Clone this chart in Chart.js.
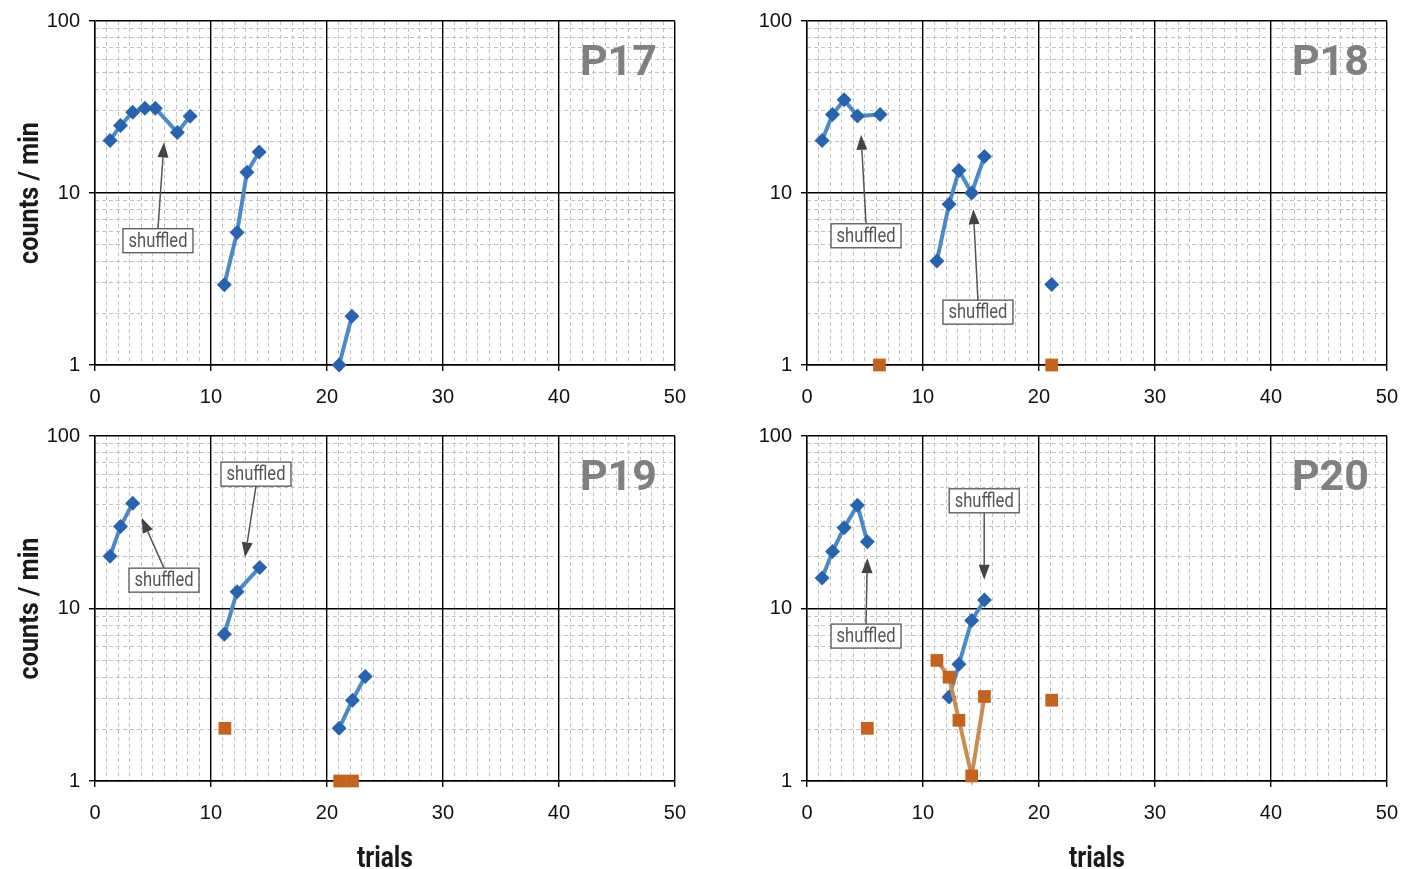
<!DOCTYPE html>
<html lang="en">
<head>
    <meta charset="UTF-8">
    <title>counts / min vs trials</title>
    <style>
        * { margin: 0; padding: 0; box-sizing: border-box; }
        body { background: #fff; overflow: hidden; }
        .wrap { position: relative; width: 1403px; height: 869px; overflow: hidden; }
        .wrap canvas { position: absolute; }
    </style>
    <script src="https://cdn.jsdelivr.net/npm/chart.js"></script>
</head>
<body>
    <div class="wrap">
        <canvas id="p17" width="700" height="415" style="left:0;top:0"></canvas>
        <canvas id="p18" width="700" height="415" style="left:712px;top:0"></canvas>
        <canvas id="p19" width="700" height="454" style="left:0;top:415px"></canvas>
        <canvas id="p20" width="700" height="454" style="left:712px;top:415px"></canvas>
    </div>

    <script>
        // axis ticks
        const xTicks = [0, 10, 20, 30, 40, 50];
        const yTicks = [1, 10, 100];
        const xMinor = [];
        for (let i = 1; i < 50; i++) if (i % 10) xMinor.push(i);
        const yMinor = [2, 3, 4, 5, 6, 7, 8, 9, 20, 30, 40, 50, 60, 70, 80, 90];

        // P17 (null = break in the line)
        const p17BlueX = [1.3, 2.2, 3.25, 4.3, 5.2, 7.1, 8.2, null, 11.15, 12.25, 13.1, 14.15, null, 21.05, 22.15];
        const p17BlueY = [20.2, 24.7, 29.5, 31.1, 31.1, 22.5, 27.9, null, 2.93, 5.89, 13.2, 17.3, null, 1.0, 1.92];
        const p17OrangeX = [];
        const p17OrangeY = [];

        // P18
        const p18BlueX = [1.3, 2.2, 3.2, 4.35, 6.3, null, 11.2, 12.25, 13.1, 14.2, 15.3, null, 21.1];
        const p18BlueY = [20.2, 28.6, 34.8, 28.0, 28.6, null, 4.03, 8.6, 13.5, 10.0, 16.3, null, 2.94];
        const p18OrangeX = [6.25, null, 21.1];
        const p18OrangeY = [1, null, 1];

        // P19
        const p19BlueX = [1.3, 2.2, 3.25, null, 11.15, 12.25, 14.2, null, 21.05, 22.2, 23.3];
        const p19BlueY = [20.1, 29.9, 40.8, null, 7.08, 12.5, 17.3, null, 2.02, 2.94, 4.04];
        const p19OrangeX = [11.2, null, 21.1, null, 22.2];
        const p19OrangeY = [2.02, null, 1, null, 1];

        // P20
        const p20BlueX = [1.3, 2.2, 3.2, 4.35, 5.2, null, 12.25, 13.1, 14.2, 15.3];
        const p20BlueY = [15.0, 21.4, 29.4, 39.7, 24.4, null, 3.07, 4.75, 8.52, 11.2];
        const p20OrangeX = [5.2, null, 11.2, 12.25, 13.1, 14.2, 15.3, null, 21.1];
        const p20OrangeY = [2.02, null, 5.0, 4.0, 2.25, 1.07, 3.09, null, 2.94];

        // "shuffled" notes: box centre (x, y) and arrow tip (tx, ty), data units
        const p17Notes = [{ x: 5.43, y: 5.28, tx: 5.95, ty: 19.7 }];
        const p18Notes = [{ x: 5.09, y: 5.64, tx: 4.66, ty: 21.8 }, { x: 14.74, y: 2.03, tx: 14.34, ty: 8.05 }];
        const p19Notes = [{ x: 5.95, y: 14.6, tx: 4.02, ty: 33.6 }, { x: 13.88, y: 60.1, tx: 12.93, ty: 19.8 }];
        const p20Notes = [{ x: 5.09, y: 6.92, tx: 5.2, ty: 19.6 }, { x: 15.28, y: 42.1, tx: 15.28, ty: 14.7 }];

        const BLUE = '#2a63ad';
        const BLUE_LINE = '#4c89c8';
        const ORANGE = '#c4631f';
        const ORANGE_LINE = '#c88c55';

        function fitText(ctx, text, x, y, font, width, align) {
            ctx.font = font;
            const s = width / ctx.measureText(text).width;
            ctx.save();
            ctx.translate(x, y);
            ctx.scale(s, 1);
            ctx.textAlign = align;
            ctx.fillText(text, 0, 0);
            ctx.restore();
        }

        const decor = {
            id: 'decor',
            afterDatasetsDraw(chart, args, opts) {
                const ctx = chart.ctx;
                const xs = chart.scales.x, ys = chart.scales.y, area = chart.chartArea;

                // panel name
                ctx.save();
                ctx.fillStyle = '#808080';
                ctx.textBaseline = 'alphabetic';
                fitText(ctx, opts.name, area.right - 18, area.top + 54, 'bold 43px Roboto', 77, 'right');
                ctx.restore();

                // shuffled boxes + arrows
                opts.notes.forEach(n => {
                    const bx = xs.getPixelForValue(n.x), by = ys.getPixelForValue(n.y);
                    const tx = xs.getPixelForValue(n.tx), ty = ys.getPixelForValue(n.ty);
                    const w = 70, h = 24;
                    const sy = ty < by ? by - h / 2 : by + h / 2;
                    const ang = Math.atan2(ty - sy, tx - bx);
                    const hl = 15, hw = 5.5;
                    const ex = tx - Math.cos(ang) * hl, ey = ty - Math.sin(ang) * hl;

                    ctx.save();
                    ctx.strokeStyle = '#555';
                    ctx.lineWidth = 1.5;
                    ctx.beginPath();
                    ctx.moveTo(bx, sy);
                    ctx.lineTo(ex, ey);
                    ctx.stroke();

                    ctx.fillStyle = '#444';
                    ctx.beginPath();
                    ctx.moveTo(tx, ty);
                    ctx.lineTo(ex - Math.sin(ang) * hw, ey + Math.cos(ang) * hw);
                    ctx.lineTo(ex + Math.sin(ang) * hw, ey - Math.cos(ang) * hw);
                    ctx.closePath();
                    ctx.fill();

                    ctx.fillStyle = '#fff';
                    ctx.fillRect(bx - w / 2, by - h / 2, w, h);
                    ctx.lineWidth = 1.3;
                    ctx.strokeStyle = '#555';
                    ctx.strokeRect(bx - w / 2, by - h / 2, w, h);

                    ctx.fillStyle = '#555';
                    ctx.textBaseline = 'middle';
                    fitText(ctx, 'shuffled', bx, by + 1, '20px Roboto', 59, 'center');
                    ctx.restore();
                });
            },
            afterDraw(chart, args, opts) {
                const ctx = chart.ctx, area = chart.chartArea;
                ctx.save();
                ctx.fillStyle = '#1a1a1a';
                ctx.textBaseline = 'alphabetic';
                if (opts.yTitle) {
                    ctx.save();
                    ctx.translate(37.5, (area.top + area.bottom) / 2);
                    ctx.rotate(-Math.PI / 2);
                    fitText(ctx, 'counts / min', 0, 0, 'bold 28px Roboto', 142, 'center');
                    ctx.restore();
                }
                if (opts.xTitle) {
                    fitText(ctx, 'trials', (area.left + area.right) / 2, area.bottom + 85.5, 'bold 29px Roboto', 56, 'center');
                }
                ctx.restore();
            }
        };

        function points(xs, ys) {
            return xs.map((x, i) => ({ x: x, y: ys[i] }));
        }

        function makeChart(id, blueX, blueY, orangeX, orangeY, notes, name, opt) {
            const tickFont = { family: "'Liberation Sans', Arial, sans-serif", size: 20 };
            return new Chart(document.getElementById(id), {
                type: 'line',
                data: {
                    datasets: [
                        {
                            data: points(orangeX, orangeY),
                            borderColor: ORANGE_LINE,
                            borderWidth: 4,
                            pointStyle: 'rect',
                            pointRadius: 9,
                            pointBackgroundColor: ORANGE,
                            pointBorderWidth: 0,
                            spanGaps: false,
                            clip: false,
                            xAxisID: 'x',
                            yAxisID: 'y'
                        },
                        {
                            data: points(blueX, blueY),
                            borderColor: BLUE_LINE,
                            borderWidth: 4,
                            pointStyle: 'rectRot',
                            pointRadius: 7.5,
                            pointBackgroundColor: BLUE,
                            pointBorderWidth: 0,
                            spanGaps: false,
                            clip: false,
                            xAxisID: 'x',
                            yAxisID: 'y'
                        }
                    ]
                },
                options: {
                    responsive: false,
                    animation: false,
                    events: [],
                    layout: { padding: { left: 0, right: 25, top: opt.padTop, bottom: 0 } },
                    plugins: {
                        legend: { display: false },
                        tooltip: { enabled: false },
                        decor: { name: name, notes: notes, yTitle: opt.yTitle, xTitle: opt.xTitle }
                    },
                    scales: {
                        xMinor: {
                            type: 'linear', position: 'bottom', min: 0, max: 50, weight: 0,
                            afterBuildTicks: a => { a.ticks = xMinor.map(v => ({ value: v })); },
                            afterFit: a => { a.height = 0; },
                            ticks: { display: false },
                            grid: { color: '#c2c2c2', lineWidth: 1, drawTicks: false },
                            border: { display: false, dash: [4, 3] }
                        },
                        yMinor: {
                            type: 'logarithmic', position: 'left', min: 1, max: 100, weight: 0,
                            afterBuildTicks: a => { a.ticks = yMinor.map(v => ({ value: v })); },
                            afterFit: a => { a.width = 0; },
                            ticks: { display: false },
                            grid: { color: '#c2c2c2', lineWidth: 1, drawTicks: false },
                            border: { display: false, dash: [4, 3] }
                        },
                        x: {
                            type: 'linear', position: 'bottom', min: 0, max: 50, weight: 1,
                            afterBuildTicks: a => { a.ticks = xTicks.map(v => ({ value: v })); },
                            afterFit: a => { a.height = opt.xHeight; },
                            ticks: { color: '#111', font: tickFont, padding: 14, maxRotation: 0, autoSkip: false },
                            grid: { color: '#000', lineWidth: 1.4, tickLength: 6 },
                            border: { color: '#000', width: 1.4 }
                        },
                        y: {
                            type: 'logarithmic', position: 'left', min: 1, max: 100, weight: 1,
                            afterBuildTicks: a => { a.ticks = yTicks.map(v => ({ value: v })); },
                            afterFit: a => { a.width = 95; },
                            ticks: { color: '#111', font: tickFont, padding: 9, autoSkip: false, callback: v => String(v) },
                            grid: { color: '#000', lineWidth: 1.4, tickLength: 6 },
                            border: { color: '#000', width: 1.4 }
                        }
                    }
                },
                plugins: [decor]
            });
        }

        makeChart('p17', p17BlueX, p17BlueY, p17OrangeX, p17OrangeY, p17Notes, 'P17',
            { padTop: 19, xHeight: 50, yTitle: true, xTitle: false });
        makeChart('p18', p18BlueX, p18BlueY, p18OrangeX, p18OrangeY, p18Notes, 'P18',
            { padTop: 19, xHeight: 50, yTitle: false, xTitle: false });
        makeChart('p19', p19BlueX, p19BlueY, p19OrangeX, p19OrangeY, p19Notes, 'P19',
            { padTop: 20, xHeight: 88, yTitle: true, xTitle: true });
        makeChart('p20', p20BlueX, p20BlueY, p20OrangeX, p20OrangeY, p20Notes, 'P20',
            { padTop: 20, xHeight: 88, yTitle: false, xTitle: true });
    </script>
</body>
</html>
